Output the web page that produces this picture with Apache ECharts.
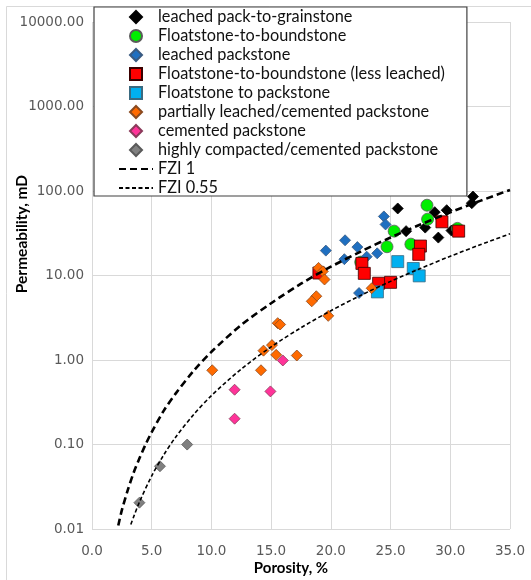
<!DOCTYPE html>
<html>
<head>
<meta charset="utf-8">
<script src="https://cdn.jsdelivr.net/npm/echarts@6/dist/echarts.min.js"></script>
<style>
  html, body { margin: 0; padding: 0; background: #fff; }
  #chart { width: 531px; height: 580px; }
</style>
</head>
<body>
<div id="chart"></div>
<script>
// Rock types: [porosity %, permeability mD]
const leachedPackToGrain = [[31.9,85.8],[31.8,71.8],[25.6,62.1],[28.7,56.2],[29.7,59.3],[27.9,36.9],[26.3,33.5],[29.0,28.1],[30.1,34.0]];
const floatToBound = [[28.05,67.9],[28.1,46.4],[25.3,33.5],[24.7,21.9],[26.7,23.5],[30.6,36.1],[22.5,14.4]];
const leachedPack = [[24.44,50.0],[24.58,40.2],[21.19,26.1],[22.22,21.7],[19.58,19.7],[21.13,15.6],[23.88,18.3],[23.0,16.7],[22.36,6.2]];
const floatToBoundLess = [[29.3,43.2],[30.7,33.5],[27.5,22.3],[27.36,17.8],[22.6,13.9],[22.8,10.6],[24.0,8.1],[25.0,8.3],[19.0,10.7]];
const floatToPack = [[25.6,14.6],[26.9,12.1],[27.4,9.9],[23.9,6.4]];
const partLeachedPack = [[18.97,12.3],[19.33,11.2],[19.47,8.97],[18.78,5.68],[18.4,4.95],[19.78,3.33],[23.42,7.06],[15.55,2.73],[15.75,2.63],[15.07,1.50],[14.36,1.29],[15.42,1.15],[17.15,1.13],[14.15,0.756],[10.07,0.756]];
const cementedPack = [[15.98,0.987],[11.94,0.445],[14.94,0.425],[11.94,0.202]];
const compactedPack = [[7.97,0.0998],[5.69,0.0553],[3.97,0.0205]];

// Flow-zone-indicator reference curves: [porosity %, permeability mD]
const fzi1 = [[2.2,0.011],[2.5,0.0167],[3,0.029],[3.5,0.047],[4,0.070],[4.5,0.101],[5,0.14],[6,0.25],[7,0.40],[8.5,0.74],[10,1.25],[12.5,2.6],[15,4.7],[17.5,8.0],[20,12.7],[22.5,19.2],[25,28.2],[27.5,40.1],[30,55.9],[32.5,76.4],[35,102.9]];
const fzi055 = [[3.25,0.0113],[3.5,0.0141],[4,0.0213],[5,0.0425],[6,0.075],[7,0.122],[8.5,0.225],[10,0.379],[12.5,0.782],[15,1.43],[17.5,2.41],[20,3.83],[22.5,5.82],[25,8.52],[27.5,12.1],[30,16.9],[32.5,23.1],[35,31.1]];

const xTicks = { min: 0, max: 35, interval: 5 };
const yRange = { min: 0.01, max: 10000 };

const legendFont = 'Lato';
const tickFont = 'DejaVu Sans';

// Legend glyphs as paths so they keep a square aspect inside the wide icon box
const ICON = {
  diamond: 'path://M0,-1L1,0L0,1L-1,0Z',
  circle: 'path://M0,-1A1,1,0,1,1,0,1A1,1,0,1,1,0,-1Z',
  rect: 'path://M-1,-1L1,-1L1,1L-1,1Z'
};

function scatter(name, data, symbol, size, color, border) {
  return {
    name, type: 'scatter', data, symbol, symbolSize: size,
    itemStyle: { color, borderColor: border, borderWidth: 0.8, opacity: 1 },
    emphasis: { disabled: true }
  };
}
function curve(name, data, width, dash) {
  return {
    name, type: 'line', data, smooth: 0.3, symbol: 'none', showSymbol: false,
    lineStyle: { color: '#000', width, type: dash },
    itemStyle: { color: '#000' },
    emphasis: { disabled: true }, z: 3
  };
}

const series = [
  scatter('leached pack-to-grainstone', leachedPackToGrain, 'diamond', 11, '#000000', '#000000'),
  scatter('Floatstone-to-boundstone', floatToBound, 'circle', 12, '#00ee00', '#5a5a5a'),
  scatter('leached packstone', leachedPack, 'diamond', 11, '#1f6fc0', '#3a5a80'),
  scatter('Floatstone-to-boundstone (less leached)', floatToBoundLess, 'rect', 12, '#ff0000', '#3a0000'),
  scatter('Floatstone to packstone', floatToPack, 'rect', 12, '#00b0f0', '#3a6a80'),
  scatter('partially leached/cemented packstone', partLeachedPack, 'diamond', 11, '#ff6a00', '#8a4a20'),
  scatter('cemented packstone', cementedPack, 'diamond', 11, '#ff3399', '#8a3a5a'),
  scatter('highly compacted/cemented packstone', compactedPack, 'diamond', 11, '#808080', '#5a5a5a'),
  curve('FZI 1', fzi1, 2.6, [7, 4]),
  curve('FZI 0.55', fzi055, 1.6, [4, 2.5])
];

const legendData = series.map(s => s.type === 'line'
  ? { name: s.name, itemStyle: { color: 'rgba(0,0,0,0)', borderWidth: 0, opacity: 0 } }
  : { name: s.name, icon: ICON[s.symbol] });

const chart = echarts.init(document.getElementById('chart'), null, { renderer: 'canvas' });
chart.setOption({
  animation: false,
  backgroundColor: '#fff',
  grid: { left: 92, right: 21, top: 22, bottom: 51, containLabel: false },
  xAxis: {
    type: 'value', min: xTicks.min, max: xTicks.max, interval: xTicks.interval,
    axisLine: { show: false }, axisTick: { show: false },
    splitLine: { show: true, lineStyle: { color: '#d9d9d9', width: 1 } },
    axisLabel: { color: '#595959', fontFamily: tickFont, fontSize: 13.5, margin: 15,
      formatter: v => v.toFixed(1) }
  },
  yAxis: {
    type: 'log', logBase: 10, min: yRange.min, max: yRange.max,
    axisLine: { show: false }, axisTick: { show: false },
    splitLine: { show: true, lineStyle: { color: '#d9d9d9', width: 1 } },
    axisLabel: { color: '#595959', fontFamily: tickFont, fontSize: 13.5, margin: 8,
      formatter: v => Number(v).toFixed(2) }
  },
  legend: {
    data: legendData,
    orient: 'vertical', left: 94, top: 7,
    padding: [2, 22, 0, 24], itemGap: 3, itemWidth: 34, itemHeight: 12,
    symbolKeepAspect: true,
    backgroundColor: '#fff', borderColor: '#404040', borderWidth: 1.2,
    textStyle: { fontFamily: legendFont, fontSize: 16.3, color: '#111' },
    selectedMode: false
  },
  graphic: [
    { type: 'polyline', shape: { points: [[6.5, 600], [6.5, 6.5], [600, 6.5]] },
      style: { stroke: '#d9d9d9', lineWidth: 1, fill: null }, z: -1 },
    { type: 'text', x: 291, y: 568,
      style: { text: 'Porosity, %', font: 'bold 15px Lato', fill: '#000', textAlign: 'center', textVerticalAlign: 'middle' } },
    { type: 'text', x: 22, y: 234, rotation: Math.PI / 2,
      style: { text: 'Permeability, mD', font: 'bold 15.5px Lato', fill: '#000', textAlign: 'center', textVerticalAlign: 'middle' } }
  ],
  series
});
</script>
</body>
</html>
